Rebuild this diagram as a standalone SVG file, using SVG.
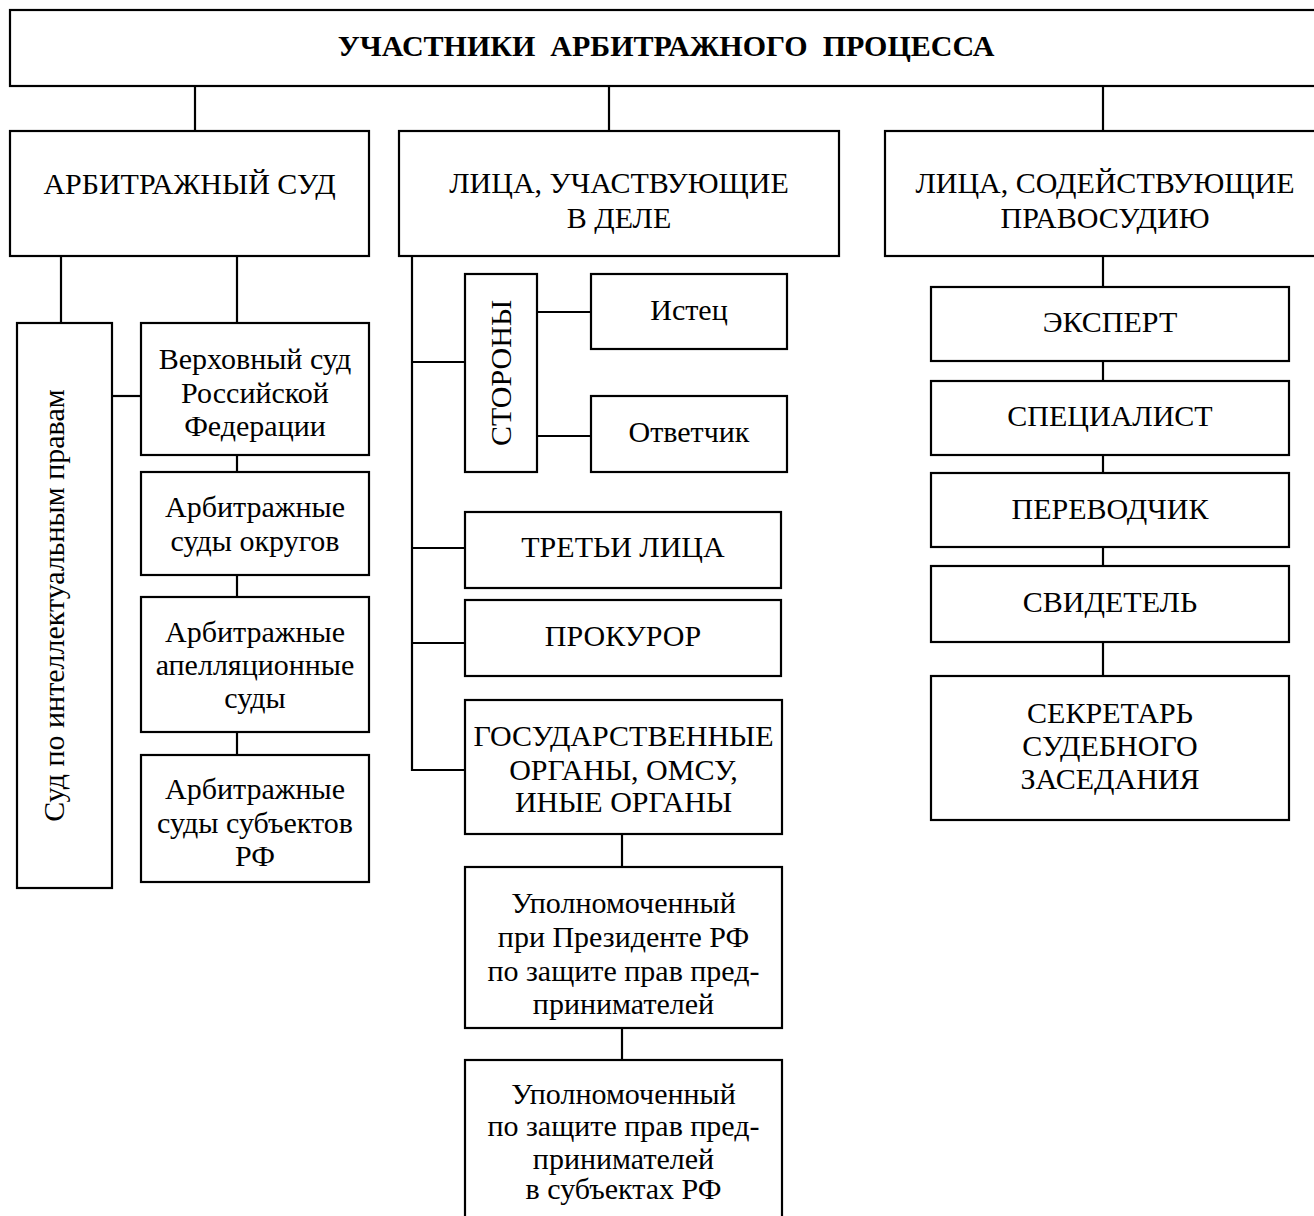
<svg xmlns="http://www.w3.org/2000/svg" width="1314" height="1216" viewBox="0 0 1314 1216">
<style>
rect{fill:#fff;stroke:#000;stroke-width:2.2}
.c line,.c path{stroke:#000;stroke-width:2.2;fill:none}
text{font-family:"Liberation Serif","Times New Roman",serif;font-size:30px;fill:#000;text-anchor:middle}
.b{font-weight:bold}
</style>
<rect x="0" y="0" width="1314" height="1216" style="fill:#fff;stroke:none"/>
<g class="c">
<line x1="195" y1="86" x2="195" y2="131"/>
<line x1="609" y1="86" x2="609" y2="131"/>
<line x1="1103" y1="86" x2="1103" y2="131"/>
<line x1="61" y1="256" x2="61" y2="323"/>
<line x1="237" y1="256" x2="237" y2="323"/>
<line x1="112" y1="396" x2="141" y2="396"/>
<line x1="237" y1="455" x2="237" y2="472"/>
<line x1="237" y1="575" x2="237" y2="597"/>
<line x1="237" y1="732" x2="237" y2="755"/>
<path d="M412 256 V770 H465"/>
<line x1="412" y1="362" x2="465" y2="362"/>
<line x1="412" y1="548" x2="465" y2="548"/>
<line x1="412" y1="643" x2="465" y2="643"/>
<line x1="537" y1="312" x2="591" y2="312"/>
<line x1="537" y1="436" x2="591" y2="436"/>
<line x1="622" y1="834" x2="622" y2="867"/>
<line x1="622" y1="1028" x2="622" y2="1060"/>
<line x1="1103" y1="256" x2="1103" y2="287"/>
<line x1="1103" y1="361" x2="1103" y2="381"/>
<line x1="1103" y1="455" x2="1103" y2="473"/>
<line x1="1103" y1="547" x2="1103" y2="566"/>
<line x1="1103" y1="642" x2="1103" y2="676"/>
</g>
<g id="root"><rect x="10" y="10" width="1320" height="76"/><text class="b" x="666" y="56" xml:space="preserve">УЧАСТНИКИ  АРБИТРАЖНОГО  ПРОЦЕССА</text></g>
<g id="arbsud"><rect x="10" y="131" width="359" height="125"/><text x="189.5" y="194">АРБИТРАЖНЫЙ СУД</text></g>
<g id="lica"><rect x="399" y="131" width="440" height="125"/><text x="619" y="193">ЛИЦА, УЧАСТВУЮЩИЕ</text><text x="619" y="228">В ДЕЛЕ</text></g>
<g id="sod"><rect x="885" y="131" width="440" height="125"/><text x="1105" y="193">ЛИЦА, СОДЕЙСТВУЮЩИЕ</text><text x="1105" y="228">ПРАВОСУДИЮ</text></g>
<g id="intel"><rect x="17" y="323" width="95" height="565"/><text transform="translate(64,605.5) rotate(-90)" x="0" y="0">Суд по интеллектуальным правам</text></g>
<g id="vs"><rect x="141" y="323" width="228" height="132"/><text x="255" y="369">Верховный суд</text><text x="255" y="403">Российской</text><text x="255" y="436">Федерации</text></g>
<g id="okr"><rect x="141" y="472" width="228" height="103"/><text x="255" y="517">Арбитражные</text><text x="255" y="551">суды округов</text></g>
<g id="apel"><rect x="141" y="597" width="228" height="135"/><text x="255" y="642">Арбитражные</text><text x="255" y="675">апелляционные</text><text x="255" y="708">суды</text></g>
<g id="subj"><rect x="141" y="755" width="228" height="127"/><text x="255" y="799">Арбитражные</text><text x="255" y="833">суды субъектов</text><text x="255" y="866">РФ</text></g>
<g id="storony"><rect x="465" y="274" width="72" height="198"/><text transform="translate(511,373) rotate(-90)" x="0" y="0">СТОРОНЫ</text></g>
<g id="istec"><rect x="591" y="274" width="196" height="75"/><text x="689" y="320">Истец</text></g>
<g id="otv"><rect x="591" y="396" width="196" height="76"/><text x="689" y="442">Ответчик</text></g>
<g id="tret"><rect x="465" y="512" width="316" height="76"/><text x="623" y="557">ТРЕТЬИ ЛИЦА</text></g>
<g id="prok"><rect x="465" y="600" width="316" height="76"/><text x="623" y="646">ПРОКУРОР</text></g>
<g id="gos"><rect x="465" y="700" width="317" height="134"/><text x="623.5" y="746">ГОСУДАРСТВЕННЫЕ</text><text x="623.5" y="780">ОРГАНЫ, ОМСУ,</text><text x="623.5" y="812">ИНЫЕ ОРГАНЫ</text></g>
<g id="upol1"><rect x="465" y="867" width="317" height="161"/><text x="623.5" y="913">Уполномоченный</text><text x="623.5" y="947">при Президенте РФ</text><text x="623.5" y="981">по защите прав пред-</text><text x="623.5" y="1014">принимателей</text></g>
<g id="upol2"><rect x="465" y="1060" width="317" height="170"/><text x="623.5" y="1104">Уполномоченный</text><text x="623.5" y="1136">по защите прав пред-</text><text x="623.5" y="1169">принимателей</text><text x="623.5" y="1199">в субъектах РФ</text></g>
<g id="expert"><rect x="931" y="287" width="358" height="74"/><text x="1110" y="332">ЭКСПЕРТ</text></g>
<g id="spec"><rect x="931" y="381" width="358" height="74"/><text x="1110" y="426">СПЕЦИАЛИСТ</text></g>
<g id="perev"><rect x="931" y="473" width="358" height="74"/><text x="1110" y="519">ПЕРЕВОДЧИК</text></g>
<g id="svid"><rect x="931" y="566" width="358" height="76"/><text x="1110" y="612">СВИДЕТЕЛЬ</text></g>
<g id="sekr"><rect x="931" y="676" width="358" height="144"/><text x="1110" y="723">СЕКРЕТАРЬ</text><text x="1110" y="756">СУДЕБНОГО</text><text x="1110" y="789">ЗАСЕДАНИЯ</text></g>
</svg>
